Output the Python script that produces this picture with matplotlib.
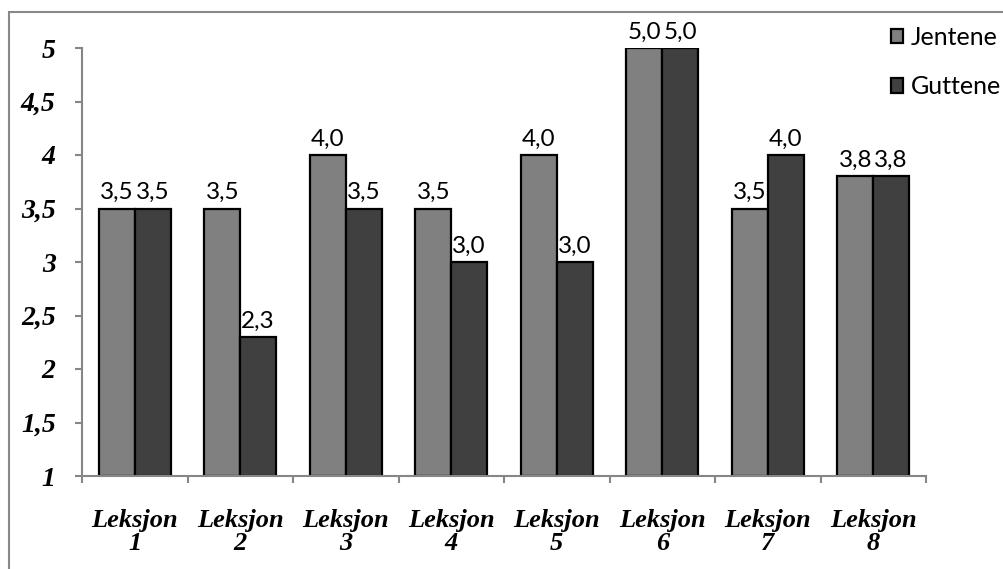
import numpy as np
import matplotlib
matplotlib.use("Agg")
import matplotlib.pyplot as plt
from matplotlib.patches import Rectangle

# Data
categories = ["Leksjon\n1", "Leksjon\n2", "Leksjon\n3", "Leksjon\n4",
              "Leksjon\n5", "Leksjon\n6", "Leksjon\n7", "Leksjon\n8"]
jentene = [3.5, 3.5, 4.0, 3.5, 4.0, 5.0, 3.5, 3.8]
guttene = [3.5, 2.3, 3.5, 3.0, 3.0, 5.0, 4.0, 3.8]
series_names = ["Jentene", "Guttene"]
y_ticks = [1, 1.5, 2, 2.5, 3, 3.5, 4, 4.5, 5]

W, H = 1004, 569
fig = plt.figure(figsize=(W / 100, H / 100), dpi=100)
ax = fig.add_axes([82 / W, 1 - 476 / H, (926 - 82) / W, (476 - 48) / H])

x = np.arange(len(categories))
bw = 0.34
label_font = "Lato"
tick_font = dict(family="Liberation Serif", weight="bold", style="italic")

b1 = ax.bar(x - bw / 2, np.array(jentene) - 1, bw, bottom=1, color="#808080",
            edgecolor="black", linewidth=1.6, label=series_names[0])
b2 = ax.bar(x + bw / 2, np.array(guttene) - 1, bw, bottom=1, color="#404040",
            edgecolor="black", linewidth=1.6, label=series_names[1])

for xs, vals in ((x - bw / 2, jentene), (x + bw / 2, guttene)):
    for xi, v in zip(xs, vals):
        ax.annotate(f"{v:.1f}".replace(".", ","), (xi, v), xytext=(0, 4),
                    textcoords="offset points", ha="center", va="bottom",
                    fontsize=17.5, family=label_font)

ax.set_xlim(-0.5, len(categories) - 0.5)
ax.set_ylim(1, 5)
ax.set_yticks(y_ticks)
ax.set_yticklabels([f"{t:g}".replace(".", ",") for t in y_ticks],
                   fontsize=20, **tick_font)
ax.set_xticks(x)
ax.set_xticklabels(categories, fontsize=19, linespacing=1.0, **tick_font)
ax.set_xticks(np.arange(len(categories) + 1) - 0.5, minor=True)
ax.tick_params(axis="x", which="major", length=0, pad=24)
ax.tick_params(axis="x", which="minor", length=5, color="#868686", width=1.5)
ax.tick_params(axis="y", length=5, color="#868686", width=1.5, pad=14)

for s in ("top", "right"):
    ax.spines[s].set_visible(False)
for s in ("left", "bottom"):
    ax.spines[s].set_color("#868686")
    ax.spines[s].set_linewidth(1.5)

fig.legend(handles=[b1, b2], loc="upper left",
           bbox_to_anchor=(891 / W, 1 - 26 / H), frameon=False,
           prop=dict(family=label_font, size=18), handlelength=0.5,
           handleheight=0.5, handletextpad=0.3, labelspacing=1.05,
           borderpad=0, borderaxespad=0)

# outer chart frame
fig.patches.append(Rectangle((9 / W, -0.05), 1.2, 1 - 12 / H + 0.05,
                             transform=fig.transFigure, fill=False,
                             edgecolor="#888888", linewidth=1.5))

fig.savefig("out.png", dpi=100)
